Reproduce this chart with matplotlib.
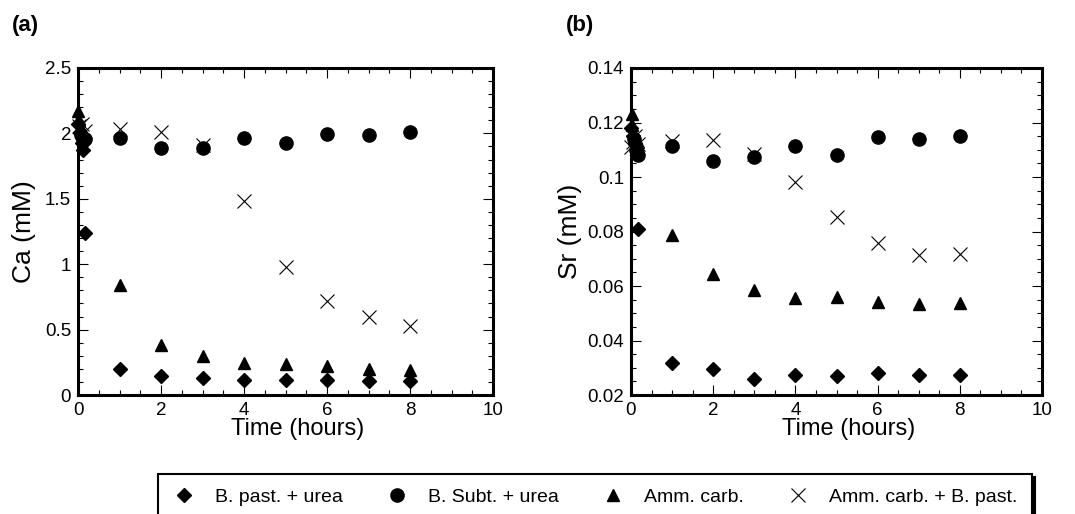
import numpy as np
import matplotlib.pyplot as plt
from matplotlib.ticker import MultipleLocator

plt.rcParams['font.family'] = ['Liberation Sans', 'DejaVu Sans']

# (a) calcium
t_bp_ca = [0.0, 0.05, 0.1, 0.13, 0.17, 1, 2, 3, 4, 5, 6, 7, 8]
ca_bp = [2.07, 2.0, 1.93, 1.87, 1.24, 0.195, 0.148, 0.128, 0.118, 0.117, 0.116, 0.11, 0.11]
t_bs_ca = [0.08, 0.13, 0.17, 1, 2, 3, 4, 5, 6, 7, 8]
ca_bs = [1.99, 1.94, 1.96, 1.965, 1.885, 1.89, 1.965, 1.925, 1.995, 1.985, 2.01]
t_am_ca = [0.0, 0.03, 0.08, 1, 2, 3, 4, 5, 6, 7, 8]
ca_am = [2.17, 2.1, 2.04, 0.84, 0.385, 0.3, 0.245, 0.235, 0.22, 0.2, 0.19]
t_ab_ca = [0.03, 0.1, 0.17, 1, 2, 3, 4, 5, 6, 7, 8]
ca_ab = [2.06, 2.07, 2.02, 2.03, 2.01, 1.91, 1.48, 0.98, 0.72, 0.595, 0.528]

# (b) strontium
t_bp_sr = [0.0, 0.05, 0.1, 0.17, 1, 2, 3, 4, 5, 6, 7, 8]
sr_bp = [0.118, 0.115, 0.112, 0.081, 0.0316, 0.0296, 0.0259, 0.0273, 0.0269, 0.028, 0.0274, 0.0275]
t_bs_sr = [0.08, 0.13, 0.17, 1, 2, 3, 4, 5, 6, 7, 8]
sr_bs = [0.114, 0.11, 0.108, 0.1113, 0.1059, 0.1072, 0.1115, 0.1082, 0.1148, 0.1141, 0.1151]
t_am_sr = [0.02, 0.03, 0.17, 1, 2, 3, 4, 5, 6, 7, 8]
sr_am = [0.123, 0.119, 0.113, 0.0787, 0.0643, 0.0585, 0.0556, 0.056, 0.054, 0.0533, 0.0537]
t_ab_sr = [0.0, 0.05, 0.1, 0.17, 1, 2, 3, 4, 5, 6, 7, 8]
sr_ab = [0.111, 0.113, 0.115, 0.112, 0.1131, 0.1135, 0.1084, 0.0983, 0.0854, 0.0758, 0.0713, 0.0718]

labels = ['B. past. + urea', 'B. Subt. + urea', 'Amm. carb.', 'Amm. carb. + B. past.']
xticks = [0, 2, 4, 6, 8, 10]
ca_ticks = [0, 0.5, 1, 1.5, 2, 2.5]
ca_ticklabels = ['0', '0.5', '1', '1.5', '2', '2.5']
sr_ticks = [0.02, 0.04, 0.06, 0.08, 0.1, 0.12, 0.14]
sr_ticklabels = ['0.02', '0.04', '0.06', '0.08', '0.1', '0.12', '0.14']

fig = plt.figure(figsize=(10.75, 5.14), dpi=100)
W, H = 1075, 514
axa = fig.add_axes([78/W, 1-395/H, 415/W, 327/H])
axb = fig.add_axes([631/W, 1-395/H, 411/W, 327/H])

def style(ax, ymin):
    ax.set_xlim(0, 10)
    ax.xaxis.set_minor_locator(MultipleLocator(0.5))
    ax.yaxis.set_minor_locator(MultipleLocator(ymin))
    ax.tick_params(which='both', direction='in', top=True, right=True, labelsize=13.5, width=0.8)
    ax.tick_params(which='major', length=7, pad=5)
    ax.tick_params(which='minor', length=3.5)
    for s in ax.spines.values():
        s.set_linewidth(2.2)
    ax.set_xlabel('Time (hours)', fontsize=17, labelpad=-1, x=0.53)

def draw(ax, data):
    (t1, y1), (t2, y2), (t3, y3), (t4, y4) = data
    ax.plot(t1, y1, 'D', color='black', ms=7, ls='none', label=labels[0], clip_on=False)
    ax.plot(t2, y2, 'o', color='black', ms=9.5, ls='none', label=labels[1], clip_on=False)
    ax.plot(t3, y3, '^', color='black', ms=8.5, ls='none', label=labels[2], clip_on=False)
    ax.plot(t4, y4, 'x', color='black', ms=9.5, mew=0.8, ls='none', label=labels[3], clip_on=False)

draw(axa, [(t_bp_ca, ca_bp), (t_bs_ca, ca_bs), (t_am_ca, ca_am), (t_ab_ca, ca_ab)])
axa.set_ylim(0, 2.5)
style(axa, 0.1)
axa.set_yticks(ca_ticks, ca_ticklabels)
axa.set_xticks(xticks, [str(v) for v in xticks])
axa.set_ylabel('Ca (mM)', fontsize=19, labelpad=6)

draw(axb, [(t_bp_sr, sr_bp), (t_bs_sr, sr_bs), (t_am_sr, sr_am), (t_ab_sr, sr_ab)])
axb.set_ylim(0.02, 0.14)
style(axb, 0.005)
axb.set_yticks(sr_ticks, sr_ticklabels)
axb.set_xticks(xticks, [str(v) for v in xticks])
axb.set_ylabel('Sr (mM)', fontsize=19, labelpad=4)

fig.text(12/W, 1-25/H, '(a)', fontsize=16, fontweight='bold', va='center')
fig.text(566/W, 1-25/H, '(b)', fontsize=16, fontweight='bold', va='center')

h, l = axa.get_legend_handles_labels()
leg = fig.legend(h, l, ncol=4, loc='upper left', bbox_to_anchor=(158/W, 1-574/H, (1032-158)/W, 100/H),
                 mode='expand', fontsize=14, frameon=True, fancybox=False, edgecolor='black',
                 borderpad=0.75, handlelength=1.2, handletextpad=1.0, borderaxespad=0,
                 shadow={'color': 'black', 'alpha': 1.0})
leg.get_frame().set_linewidth(1.5)

fig.savefig('out.png', dpi=100)
